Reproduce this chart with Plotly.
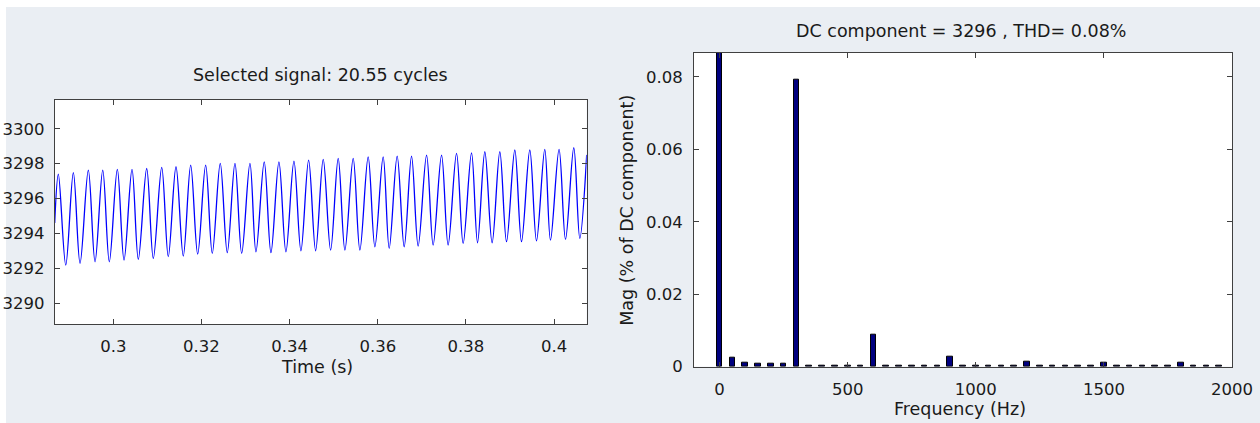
import plotly.graph_objects as go

W, H = 1260, 423

# ---- Left panel: selected signal (extrema) ----
sig_t = [0.2867,
         0.28753, 0.28921, 0.29093, 0.29245, 0.29433, 0.29585, 0.29760, 0.29909,
         0.30091, 0.30243, 0.30424, 0.30567, 0.30757, 0.30907, 0.31098, 0.31247,
         0.31422, 0.31587, 0.31755, 0.31914, 0.32095, 0.32245, 0.32426, 0.32585,
         0.32760, 0.32912, 0.33100, 0.33236, 0.33424, 0.33576, 0.33757, 0.33916,
         0.34098, 0.34256, 0.34431, 0.34590, 0.34762, 0.34930, 0.35102, 0.35254,
         0.35442, 0.35594, 0.35782, 0.35934, 0.36122, 0.36259, 0.36440, 0.36599,
         0.36766, 0.36916, 0.37107, 0.37256, 0.37447, 0.37596, 0.37787, 0.37937,
         0.38127, 0.38263, 0.38429, 0.38594, 0.38769, 0.38921, 0.39109, 0.39261,
         0.39449, 0.39601, 0.39789, 0.39918, 0.40113, 0.40259, 0.40447, 0.40583,
         0.4074]
sig_v = [3294.6,
         3297.40, 3292.18, 3297.48, 3292.28, 3297.63, 3292.37, 3297.63, 3292.37,
         3297.67, 3292.47, 3297.67, 3292.51, 3297.72, 3292.56, 3297.78, 3292.66,
         3297.82, 3292.70, 3297.91, 3292.81, 3297.91, 3292.85, 3298.01, 3292.89,
         3298.01, 3292.85, 3298.01, 3292.94, 3298.10, 3292.89, 3298.10, 3292.94,
         3298.14, 3293.00, 3298.20, 3293.00, 3298.24, 3293.04, 3298.30, 3293.04,
         3298.30, 3293.04, 3298.39, 3293.23, 3298.39, 3293.14, 3298.43, 3293.23,
         3298.43, 3293.27, 3298.49, 3293.33, 3298.49, 3293.33, 3298.59, 3293.42,
         3298.62, 3293.46, 3298.68, 3293.46, 3298.68, 3293.52, 3298.78, 3293.52,
         3298.78, 3293.57, 3298.82, 3293.61, 3298.82, 3293.65, 3298.91, 3293.71,
         3298.5]

# ---- Right panel: FFT spectrum ----
freq_hz = [0, 50, 100, 150, 200, 250, 300, 350, 400, 450, 500, 550, 600, 650, 700,
           750, 800, 850, 900, 950, 1000, 1050, 1100, 1150, 1200, 1250, 1300, 1350,
           1400, 1450, 1500, 1550, 1600, 1650, 1700, 1750, 1800, 1850, 1900, 1950]
mag_pct = [100, 0.0025, 0.0012, 0.0008, 0.0008, 0.0008, 0.0792, 0.0004, 0.0004, 0.0004,
           0.0004, 0.0004, 0.0087, 0.0004, 0.0004, 0.0004, 0.0004, 0.0004, 0.0029, 0.0004,
           0.0004, 0.0004, 0.0004, 0.0004, 0.0015, 0.0004, 0.0004, 0.0004, 0.0004, 0.0004,
           0.0012, 0.0004, 0.0004, 0.0004, 0.0004, 0.0004, 0.0011, 0.0004, 0.0004, 0.0004]

left_title = "Selected signal: 20.55 cycles"
right_title = "DC component = 3296 , THD= 0.08%"
left_xlabel = "Time (s)"
right_xlabel = "Frequency (Hz)"
right_ylabel = "Mag (% of DC component)"

FONT = "DejaVu Sans"
FS = 17.5
FS_TICK = 16.5
TXT = "#1a1a1a"
AX = "#404040"
BG = "#eaeef3"

fig = go.Figure()
fig.add_trace(go.Scatter(x=sig_t, y=sig_v, mode="lines",
                         line=dict(color="#0000ff", width=1.3, shape="spline", smoothing=1.0),
                         xaxis="x", yaxis="y", showlegend=False, hoverinfo="skip"))
fig.add_trace(go.Bar(x=freq_hz, y=mag_pct, width=22,
                     marker=dict(color="#00007f", line=dict(color="#000000", width=1)),
                     xaxis="x2", yaxis="y2", showlegend=False))

def px_x(p):
    return p / W

def px_y(p):
    return 1 - p / H

axcommon = dict(showline=True, linecolor=AX, linewidth=1, mirror="ticks",
                ticks="inside", ticklen=5, tickcolor=AX, tickwidth=1,
                showgrid=False, zeroline=False,
                tickfont=dict(family=FONT, size=FS_TICK, color=TXT))

fig.update_layout(
    autosize=True,
    margin=dict(l=0, r=0, t=0, b=0, autoexpand=False),
    paper_bgcolor=BG, plot_bgcolor="#ffffff",
    bargap=0,
    xaxis=dict(domain=[px_x(54.7), px_x(586.7)], range=[0.2867, 0.4074],
               tick0=0.3, dtick=0.02, anchor="y", ticklabelstandoff=7, **axcommon),
    yaxis=dict(domain=[px_y(324.3), px_y(100)], range=[3288.78, 3301.65],
               tick0=3290, dtick=2, anchor="x", ticklabelstandoff=6, **axcommon),
    xaxis2=dict(domain=[px_x(694), px_x(1232)], range=[-100, 2000.01],
                tick0=0, dtick=500, anchor="y2", ticklabelstandoff=7, **axcommon),
    yaxis2=dict(domain=[px_y(366.7), px_y(52.7)], range=[0, 0.0867],
                tick0=0, dtick=0.02, anchor="x2", ticklabelstandoff=7, **axcommon),
    shapes=[
        dict(type="rect", xref="paper", yref="paper", x0=0, x1=1, y0=px_y(7), y1=1,
             fillcolor="#ffffff", line=dict(width=0), layer="below"),
        dict(type="rect", xref="paper", yref="paper", x0=0, x1=px_x(6), y0=0, y1=1,
             fillcolor="#ffffff", line=dict(width=0), layer="below"),
    ],
    annotations=[
        dict(text=left_title, x=px_x(320.7), y=px_y(75), xref="paper", yref="paper",
             showarrow=False, xanchor="center", yanchor="middle",
             font=dict(family=FONT, size=FS, color=TXT)),
        dict(text=right_title, x=px_x(961), y=px_y(31), xref="paper", yref="paper",
             showarrow=False, xanchor="center", yanchor="middle",
             font=dict(family=FONT, size=FS, color=TXT)),
        dict(text=left_xlabel, x=px_x(317), y=px_y(367), xref="paper", yref="paper",
             showarrow=False, xanchor="center", yanchor="middle",
             font=dict(family=FONT, size=FS, color=TXT)),
        dict(text=right_xlabel, x=px_x(959.7), y=px_y(409), xref="paper", yref="paper",
             showarrow=False, xanchor="center", yanchor="middle",
             font=dict(family=FONT, size=FS, color=TXT)),
        dict(text=right_ylabel, x=px_x(627), y=px_y(210.8), xref="paper", yref="paper",
             showarrow=False, xanchor="center", yanchor="middle", textangle=-90,
             font=dict(family=FONT, size=FS, color=TXT)),
    ],
)

fig.write_html("out.html",
               default_width="100vw", default_height="100vh",
               config={"responsive": True, "displayModeBar": False},
               post_script="document.body.style.margin='0';document.body.style.padding='0';"
                           "document.documentElement.style.overflow='hidden';"
                           "document.body.style.overflow='hidden';")
